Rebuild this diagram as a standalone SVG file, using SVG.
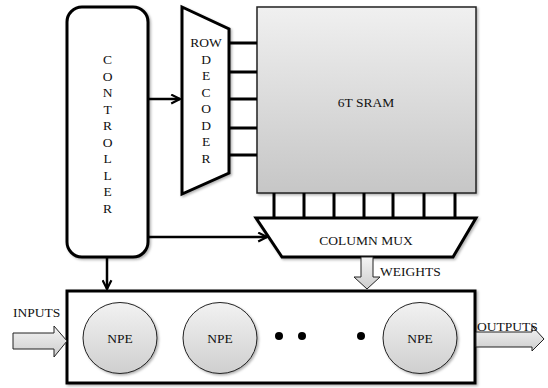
<svg xmlns="http://www.w3.org/2000/svg" width="548" height="388" viewBox="0 0 548 388">
<style>
.t{font-family:"Liberation Serif","Times New Roman",serif;font-size:13.5px;fill:#111;text-anchor:middle}
.tl{font-family:"Liberation Serif","Times New Roman",serif;font-size:13.5px;fill:#111}
.thick{fill:#fff;stroke:#000;stroke-width:3;stroke-linejoin:miter}
.wire{fill:none;stroke:#000;stroke-width:3}
.conn{fill:none;stroke:#000;stroke-width:2.5}
.barrow{fill:url(#ga);stroke:#222;stroke-width:1}
</style>
<defs>
<linearGradient id="gs" x1="0" y1="0" x2="0" y2="1">
<stop offset="0" stop-color="#f0f0f0"/>
<stop offset="1" stop-color="#c6c6c6"/>
</linearGradient>
<linearGradient id="gn" x1="0" y1="0" x2="0" y2="1">
<stop offset="0" stop-color="#f2f2f2"/>
<stop offset="1" stop-color="#cfcfcf"/>
</linearGradient>
<linearGradient id="ga" x1="0" y1="0" x2="0" y2="1">
<stop offset="0" stop-color="#f4f4f4"/>
<stop offset="1" stop-color="#cdcdcd"/>
</linearGradient>
<filter id="sh" x="-10%" y="-10%" width="130%" height="130%">
<feDropShadow dx="1.5" dy="1.5" stdDeviation="1.2" flood-color="#000" flood-opacity="0.3"/>
</filter>
<marker id="ah" viewBox="0 0 10 10" refX="9" refY="5" markerWidth="4.4" markerHeight="4.4" orient="auto" markerUnits="strokeWidth">
<path d="M1,1 L9,5 L1,9" fill="none" stroke="#000" stroke-width="2"/>
</marker>
</defs>

<g id="sram">
<rect x="257" y="7" width="219" height="186" fill="url(#gs)" stroke="#222" stroke-width="1.5" filter="url(#sh)"/>
<text class="t" x="366" y="107">6T SRAM</text>
</g>

<g id="row-wires">
<path class="wire" d="M229,43H257M229,72H257M229,99H257M229,128H257M229,155H257"/>
</g>
<g id="col-wires">
<path class="wire" d="M274,193V218M304,193V218M334,193V218M364,193V218M393,193V218M424,193V218M455,193V218"/>
</g>

<g id="controller">
<rect class="thick" x="67" y="7" width="81" height="250" rx="15" ry="15" filter="url(#sh)"/>
<text class="t" x="107.5" y="64">C</text>
<text class="t" x="107.5" y="80.5">O</text>
<text class="t" x="107.5" y="97">N</text>
<text class="t" x="107.5" y="113.5">T</text>
<text class="t" x="107.5" y="130">R</text>
<text class="t" x="107.5" y="146.5">O</text>
<text class="t" x="107.5" y="163">L</text>
<text class="t" x="107.5" y="179.5">L</text>
<text class="t" x="107.5" y="196">E</text>
<text class="t" x="107.5" y="212.5">R</text>
</g>

<g id="row-decoder">
<polygon class="thick" points="182,7 229,29 229,173 182,194" filter="url(#sh)"/>
<text class="t" x="206" y="47">ROW</text>
<text class="t" x="206" y="63.5">D</text>
<text class="t" x="206" y="80">E</text>
<text class="t" x="206" y="96.5">C</text>
<text class="t" x="206" y="113">O</text>
<text class="t" x="206" y="129.5">D</text>
<text class="t" x="206" y="146">E</text>
<text class="t" x="206" y="162.5">R</text>
</g>

<g id="column-mux">
<polygon class="thick" points="256,218 476,218 453,257 282,257" filter="url(#sh)"/>
<text class="t" x="366" y="245">COLUMN MUX</text>
</g>

<g id="npe-array">
<rect class="thick" x="67" y="291" width="408" height="92" filter="url(#sh)"/>
</g>
<g id="npe1">
<ellipse cx="120" cy="338" rx="37" ry="35.5" fill="url(#gn)" stroke="#222" stroke-width="1" filter="url(#sh)"/>
<text class="t" x="120" y="342.5">NPE</text>
</g>
<g id="npe2">
<ellipse cx="220" cy="338" rx="37" ry="35.5" fill="url(#gn)" stroke="#222" stroke-width="1" filter="url(#sh)"/>
<text class="t" x="220" y="342.5">NPE</text>
</g>
<g id="dots">
<circle cx="279" cy="336" r="4" fill="#000"/>
<circle cx="302" cy="336" r="4" fill="#000"/>
<circle cx="361" cy="336" r="4" fill="#000"/>
</g>
<g id="npe3">
<ellipse cx="420" cy="338" rx="37" ry="35.5" fill="url(#gn)" stroke="#222" stroke-width="1" filter="url(#sh)"/>
<text class="t" x="420" y="342.5">NPE</text>
</g>

<g id="connectors">
<line class="conn" x1="148" y1="99" x2="180" y2="99" marker-end="url(#ah)"/>
<line class="conn" x1="148" y1="237" x2="267" y2="237" marker-end="url(#ah)"/>
<line class="conn" x1="107" y1="257" x2="107" y2="289" marker-end="url(#ah)"/>
<polygon class="barrow" points="361,257 373,257 373,277 380,277 367,289 354,277 361,277"/>
<polygon class="barrow" points="13,333 54,333 54,326 67,341 54,357 54,349 13,349"/>
<polygon class="barrow" points="476,332 532,332 532,326 544,339 532,351 532,347 476,347"/>
</g>

<g id="labels">
<text class="tl" x="380" y="276">WEIGHTS</text>
<text class="tl" x="13" y="317">INPUTS</text>
<text class="tl" x="477" y="331">OUTPUTS</text>
</g>
</svg>
